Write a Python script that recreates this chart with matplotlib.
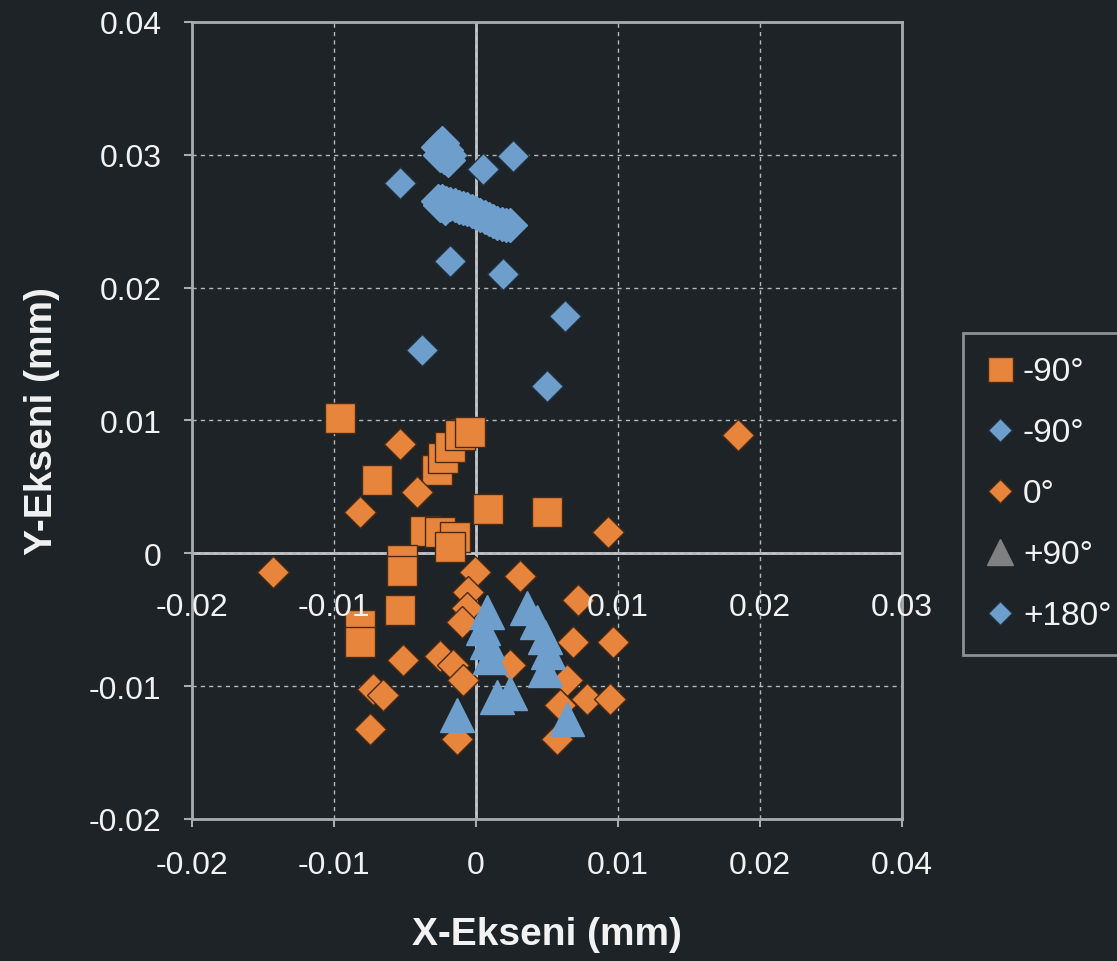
import matplotlib
matplotlib.use("Agg")
import matplotlib.pyplot as plt
from matplotlib.lines import Line2D

plt.rcParams['font.family'] = ['Liberation Sans', 'DejaVu Sans']

# -90° (orange squares)
sq_x = [-0.00958, -0.00697, -0.00275, -0.00232, -0.00183, -0.00113, -0.00042, 0.00085, 0.00500,
        -0.00359, -0.00254, -0.00148, -0.00183, -0.00521, -0.00521, -0.00535, -0.00817, -0.00817]
sq_y = [0.0102, 0.0055, 0.0063, 0.0072, 0.0080, 0.0089, 0.0091, 0.0033, 0.0031,
        0.0017, 0.0016, 0.0012, 0.0005, -0.0005, -0.0013, -0.0043, -0.0054, -0.0067]

# -90° (blue diamonds)
bd_x = [-0.00535, 0.00049, 0.00261, -0.00183, 0.00190, 0.00627, -0.00380, 0.00500]
bd_y = [0.0279, 0.0289, 0.0299, 0.0220, 0.0210, 0.0179, 0.0153, 0.0126]

# 0° (orange diamonds)
od_x = [0.01845, -0.00535, -0.00817, -0.00415, 0.00930, -0.01430, -0.00007, 0.00310, 0.00718,
        -0.00056, -0.00063, -0.00099, 0.00683, 0.00965, -0.00514, -0.00254, -0.00162, -0.00092,
        -0.00725, -0.00655, -0.00746, -0.00134, 0.00570, 0.00782, 0.00944, 0.00641, 0.00239, 0.00592]
od_y = [0.0089, 0.0082, 0.0031, 0.0046, 0.0016, -0.0014, -0.0014, -0.0017, -0.0035,
        -0.0029, -0.0041, -0.0052, -0.0067, -0.0067, -0.0080, -0.0077, -0.0084, -0.0095,
        -0.0102, -0.0107, -0.0132, -0.0140, -0.0140, -0.0110, -0.0110, -0.0095, -0.0084, -0.0114]

# +90° (triangles)
tr_x = [0.00077, 0.00049, 0.00077, 0.00099, 0.00359, 0.00430, 0.00486, 0.00507, 0.00486,
        0.00148, 0.00239, -0.00134, 0.00641]
tr_y = [-0.0044, -0.0056, -0.0067, -0.0078, -0.0041, -0.0052, -0.0063, -0.0074, -0.0088,
        -0.0108, -0.0105, -0.0122, -0.0125]

# +180° (blue diamonds, dense clusters)
b180_x = [-0.00268, -0.00240, -0.00212, -0.00190, -0.00255, -0.00225, -0.00200, -0.00240,
          -0.00268, -0.00240, -0.00210, -0.00180, -0.00150, -0.00120, -0.00090, -0.00060,
          -0.00030, 0.00000, 0.00030, 0.00060, 0.00090, 0.00120, 0.00150, 0.00180,
          0.00210, 0.00240, -0.00255, -0.00220]
b180_y = [0.0306, 0.0306, 0.0304, 0.0300, 0.0300, 0.0298, 0.0296, 0.0309,
          0.0265, 0.0265, 0.0264, 0.0263, 0.0262, 0.0261, 0.0260, 0.0259,
          0.0258, 0.0256, 0.0255, 0.0253, 0.0252, 0.0250, 0.0249, 0.0248,
          0.0247, 0.0247, 0.0262, 0.0260]

x_ticks = [-0.02, -0.01, 0.0, 0.01, 0.02, 0.03]
x_bottom_labels = ["-0.02", "-0.01", "0", "0.01", "0.02", "0.04"]
x_mid_pos = [-0.02, -0.01, 0.01, 0.02, 0.03]
x_mid_labels = ["-0.02", "-0.01", "0.01", "0.02", "0.03"]
y_ticks = [-0.02, -0.01, 0.0, 0.01, 0.02, 0.03, 0.04]
y_labels = ["-0.02", "-0.01", "0", "0.01", "0.02", "0.03", "0.04"]
legend_labels = ["-90°", "-90°", "0°", "+90°", "+180°"]

bg = '#1d2327'
orange = '#e8853d'
blue = '#6e9ecb'
gray = '#7e8082'
txt = '#f2f2f2'
line = '#a8acb0'

fig = plt.figure(figsize=(11.17, 9.62), dpi=100, facecolor=bg)
ax = fig.add_axes([192 / 1117, 142 / 962, 710 / 1117, 797 / 962])
ax.set_facecolor(bg)

ax.set_xlim(-0.02, 0.03)
ax.set_ylim(-0.02, 0.04)
ax.set_xticks(x_ticks)
ax.set_xticklabels(x_bottom_labels)
ax.set_yticks(y_ticks)
ax.set_yticklabels(y_labels)
ax.tick_params(colors=line, labelcolor=txt, labelsize=23, length=6, width=1.5, direction='out')
ax.tick_params(axis='x', pad=16)
ax.tick_params(axis='y', pad=16)

ax.grid(True, color='#b4b8bc', linestyle=(0, (3, 3)), linewidth=1)
for s in ax.spines.values():
    s.set_color(line)
    s.set_linewidth(2)
ax.axhline(0, color='#c8cacc', lw=2, zorder=1.5)
ax.axvline(0, color='#c8cacc', lw=2, zorder=1.5)

ax.plot(sq_x, sq_y, 's', ms=21, color=orange, mec='#4a2a12', mew=1, zorder=3)
ax.plot(bd_x, bd_y, 'D', ms=16, color=blue, mec='#20303e', mew=1, zorder=3)
ax.plot(od_x, od_y, 'D', ms=16, color=orange, mec='#4a2a12', mew=1, zorder=3)
ax.plot(tr_x, tr_y, '^', ms=24, color=blue, mec=blue, mew=1, zorder=3)
ax.plot(b180_x, b180_y, 'D', ms=17, color=blue, mec=blue, mew=1, zorder=3)

# second set of labels under the y=0 axis
for xp, lbl in zip(x_mid_pos, x_mid_labels):
    ax.annotate(lbl, (xp, 0), xytext=(0, -39), textcoords='offset points',
                ha='center', va='center', fontsize=23, color=txt, zorder=5)

fig.text(547 / 1117, 1 - 935 / 962, "X-Ekseni (mm)", ha='center', va='center',
         fontsize=28, fontweight='bold', color=txt)
fig.text(42 / 1117, 1 - 421 / 962, "Y-Ekseni (mm)", ha='center', va='center',
         rotation=90, fontsize=28, fontweight='bold', color=txt)

handles = [
    Line2D([], [], marker='s', ls='', ms=18, color=orange, mec='#4a2a12'),
    Line2D([], [], marker='D', ls='', ms=12, color=blue, mec='#20303e'),
    Line2D([], [], marker='D', ls='', ms=12, color=orange, mec='#4a2a12'),
    Line2D([], [], marker='^', ls='', ms=19, color=gray, mec=gray),
    Line2D([], [], marker='D', ls='', ms=12, color=blue, mec='#20303e'),
]
leg = fig.legend(handles, legend_labels, loc='upper left',
                 bbox_to_anchor=(963 / 1117, 1 - 334 / 962), borderaxespad=0,
                 fontsize=24, labelcolor=txt, frameon=True, fancybox=False,
                 facecolor=bg, edgecolor=line, handlelength=0.8, handletextpad=0.3,
                 labelspacing=0.9, borderpad=0.7)
leg.get_frame().set_linewidth(2)

fig.savefig('out.png', dpi=100, facecolor=bg)
